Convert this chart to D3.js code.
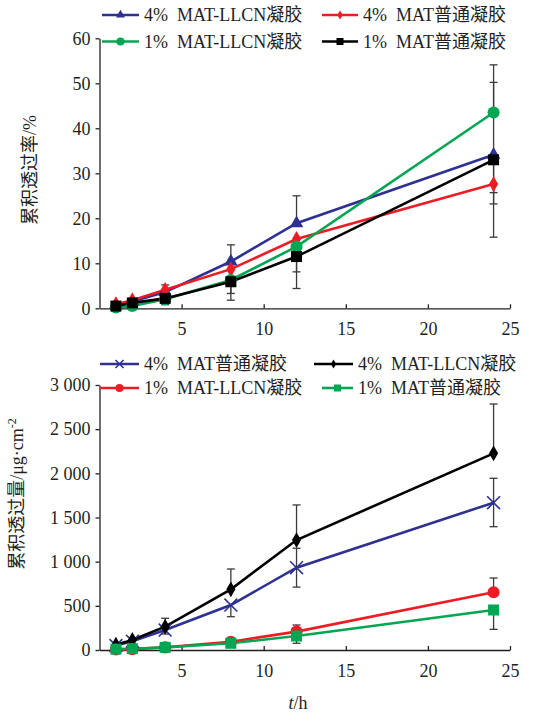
<!DOCTYPE html>
<html><head><meta charset="utf-8">
<script src="https://cdn.jsdelivr.net/npm/d3@7"></script>
<style>
body{margin:0;background:#fff;}
text{font-family:"Liberation Serif","Times New Roman","Noto Sans CJK SC",serif;fill:#231f20;}
.cjk{font-family:"Liberation Serif","Noto Sans CJK SC",serif;}
</style></head><body>
<svg id="c" width="553" height="716"></svg>
<script>
// ---------- data ----------
const times = [1, 2, 4, 8, 12, 24];
const xTicks = [5, 10, 15, 20, 25];

// Top panel: cumulative permeation rate (%)
const topNames = ["4%\u2002MAT-LLCN凝胶", "4%\u2002MAT普通凝胶", "1%\u2002MAT-LLCN凝胶", "1%\u2002MAT普通凝胶"];
const topLLCN4 = [0.8, 1.5, 3.6, 10.4, 18.9, 34.1];
const topPlain4 = [0.9, 1.8, 4.1, 8.7, 15.4, 27.6];
const topLLCN1 = [0.2, 0.5, 2.0, 6.3, 13.7, 43.5];
const topPlain1 = [0.5, 1.2, 2.2, 5.9, 11.5, 33.0];
const topLLCN4Up = [0, 0, 1.6, 3.7, 6.1, 0];
const topLLCN4Down = [0, 0, 0, 0, 0, 10.9];
const topPlain4Up = [0, 0, 0, 0, 0, 0];
const topPlain4Down = [0, 0, 0, 0, 0, 1.9];
const topLLCN1Up = [0, 0, 0, 0, 0, 10.6];
const topLLCN1Down = [0, 0, 1.2, 4.5, 5.6, 0];
const topPlain1Up = [0, 0, 0, 0, 0, 17.2];
const topPlain1Down = [0, 0, 0, 2.6, 7.1, 17.2];
const topYTicks = [0, 10, 20, 30, 40, 50, 60];

// Bottom panel: cumulative permeation amount (μg·cm-2)
const botNames = ["4%\u2002MAT普通凝胶", "4%\u2002MAT-LLCN凝胶", "1%\u2002MAT-LLCN凝胶", "1%\u2002MAT普通凝胶"];
const botPlain4 = [50, 100, 226, 509, 932, 1668];
const botLLCN4 = [60, 113, 264, 687, 1245, 2226];
const botLLCN1 = [5, 10, 30, 94, 208, 653];
const botPlain1 = [10, 15, 30, 76, 158, 453];
const botPlain4Up = [0, 0, 0, 0, 220, 276];
const botPlain4Down = [0, 0, 45, 132, 220, 272];
const botLLCN4Up = [0, 0, 95, 230, 397, 559];
const botLLCN4Down = [0, 0, 0, 0, 0, 0];
const botLLCN1Up = [0, 0, 0, 0, 75, 162];
const botLLCN1Down = [0, 0, 0, 0, 0, 0];
const botPlain1Up = [0, 0, 0, 0, 0, 0];
const botPlain1Down = [0, 0, 0, 0, 82, 219];
const botYTicks = [0, 500, 1000, 1500, 2000, 2500, 3000];

const C = {blue:"#2e3192", red:"#ed1c24", green:"#00a651", black:"#000000"};
const FS = 18;

const svg = d3.select("#c");

function marker(g, type, color, x, y, s) {
  if (type === "cross") {
    const sym = d3.symbol().type(d3.symbolX).size(s*s*0.9);
    g.append("path").attr("d", sym()).attr("transform",`translate(${x},${y})`)
      .attr("fill","none").attr("stroke",color).attr("stroke-width",1.6);
    return;
  }
  const t = {triangle:d3.symbolTriangle, diamond:d3.symbolDiamond, circle:d3.symbolCircle, square:d3.symbolSquare}[type];
  const size = {triangle:s*s*0.55, diamond:s*s*0.5, circle:s*s*0.8, square:s*s}[type];
  g.append("path").attr("d", d3.symbol().type(t).size(size)())
    .attr("transform",`translate(${x},${y})`).attr("fill",color);
}

function panel(cfg) {
  const x = d3.scaleLinear().domain([0,25]).range([99.5,510]);
  const y = d3.scaleLinear().domain(cfg.yDomain).range(cfg.yRange);
  const g = svg.append("g");

  // y axis
  const ya = g.append("g").attr("transform",`translate(${x(0)},0)`)
    .call(d3.axisLeft(y).tickValues(cfg.yTicks).tickSize(4).tickSizeOuter(0).tickFormat(cfg.fmt));
  ya.select(".domain").attr("stroke","#231f20").attr("stroke-width",1.3);
  ya.selectAll(".tick line").attr("stroke","#231f20").attr("stroke-width",1.3);
  ya.selectAll("text").attr("font-size",FS).attr("dx",-2).attr("fill","#231f20")
    .style("font-family","'Liberation Serif',serif");

  // x axis
  const xa = g.append("g").attr("transform",`translate(0,${y(0)})`)
    .call(d3.axisBottom(x).tickValues(xTicks).tickSize(-4).tickSizeOuter(0));
  xa.select(".domain").attr("stroke","#231f20").attr("stroke-width",1.3);
  xa.selectAll(".tick line").attr("stroke","#231f20").attr("stroke-width",1.3);
  xa.selectAll("text").attr("font-size",FS).attr("dy",cfg.xLabelDy).attr("fill","#231f20")
    .style("font-family","'Liberation Serif',serif");

  // y title
  g.append("text").attr("class","cjk").attr("transform",`translate(${cfg.titleX},${cfg.titleY}) rotate(-90)`)
    .attr("text-anchor","middle").attr("dy","0.35em").attr("font-size",FS).html(cfg.title);

  // lines + error bars + markers
  const line = d3.line().x((d,i)=>x(times[i])).y(d=>y(d));
  cfg.series.forEach(s=>{
    g.append("path").datum(s.values).attr("d",line).attr("fill","none")
      .attr("stroke",s.color).attr("stroke-width",2.6);
  });
  cfg.series.forEach(s=>{
    s.values.forEach((v,i)=>{
      const up = s.up[i], dn = s.down[i];
      const cx = x(times[i]);
      if (up>0) {
        g.append("line").attr("x1",cx).attr("x2",cx).attr("y1",y(v)).attr("y2",y(v+up)).attr("stroke","#3a3a3a").attr("stroke-width",1.3);
        g.append("line").attr("x1",cx-4).attr("x2",cx+4).attr("y1",y(v+up)).attr("y2",y(v+up)).attr("stroke","#3a3a3a").attr("stroke-width",1.3);
      }
      if (dn>0) {
        g.append("line").attr("x1",cx).attr("x2",cx).attr("y1",y(v)).attr("y2",y(v-dn)).attr("stroke","#3a3a3a").attr("stroke-width",1.3);
        g.append("line").attr("x1",cx-4).attr("x2",cx+4).attr("y1",y(v-dn)).attr("y2",y(v-dn)).attr("stroke","#3a3a3a").attr("stroke-width",1.3);
      }
    });
  });
  cfg.series.forEach(s=>{
    s.values.forEach((v,i)=> marker(g, s.marker, s.color, x(times[i]), y(v), s.size));
  });

  // legend
  cfg.series.forEach((s,k)=>{
    const lg = cfg.legend[k];
    g.append("line").attr("x1",lg.x1).attr("x2",lg.x2).attr("y1",lg.y).attr("y2",lg.y)
      .attr("stroke",s.color).attr("stroke-width",2.6);
    marker(g, s.marker, s.color, (lg.x1+lg.x2)/2, lg.y, s.lsize);
    g.append("text").attr("class","cjk").attr("x",lg.x2+5).attr("y",lg.y).attr("dy","0.35em")
      .attr("font-size",FS).text(s.name);
  });
}

panel({
  yDomain:[0,60], yRange:[308.3,38.3], yTicks:topYTicks, fmt:d=>d, xLabelDy:"1.32em",
  title:"累积透过率/%", titleX:30, titleY:170,
  series:[
    {name:topNames[0], values:topLLCN4, up:topLLCN4Up, down:topLLCN4Down, color:C.blue, marker:"triangle", size:12, lsize:8},
    {name:topNames[1], values:topPlain4, up:topPlain4Up, down:topPlain4Down, color:C.red, marker:"diamond", size:12, lsize:7},
    {name:topNames[2], values:topLLCN1, up:topLLCN1Up, down:topLLCN1Down, color:C.green, marker:"circle", size:12, lsize:8},
    {name:topNames[3], values:topPlain1, up:topPlain1Up, down:topPlain1Down, color:C.black, marker:"square", size:11, lsize:7}
  ],
  legend:[{x1:102,x2:139,y:15},{x1:322,x2:358,y:15},{x1:102,x2:139,y:41.5},{x1:322,x2:358,y:41.5}]
});

panel({
  yDomain:[0,3000], yRange:[650,385], yTicks:botYTicks,
  fmt:d=>d3.format(",")(d).replace(/,/g," "), xLabelDy:"1.32em",
  title:"累积透过量/μg·cm<tspan dy='-7' font-size='12'>-2</tspan>", titleX:17, titleY:494,
  series:[
    {name:botNames[0], values:botPlain4, up:botPlain4Up, down:botPlain4Down, color:C.blue, marker:"cross", size:11, lsize:7},
    {name:botNames[1], values:botLLCN4, up:botLLCN4Up, down:botLLCN4Down, color:C.black, marker:"diamond", size:12, lsize:7},
    {name:botNames[2], values:botLLCN1, up:botLLCN1Up, down:botLLCN1Down, color:C.red, marker:"circle", size:12, lsize:8},
    {name:botNames[3], values:botPlain1, up:botPlain1Up, down:botPlain1Down, color:C.green, marker:"square", size:11, lsize:7}
  ],
  legend:[{x1:100,x2:139,y:364},{x1:314,x2:353,y:364},{x1:100,x2:139,y:388},{x1:322,x2:353,y:388}]
});

svg.append("text").attr("x",298).attr("y",709).attr("text-anchor","middle").attr("font-size",FS)
  .html("<tspan font-style='italic'>t</tspan>/h");
</script>
</body></html>
